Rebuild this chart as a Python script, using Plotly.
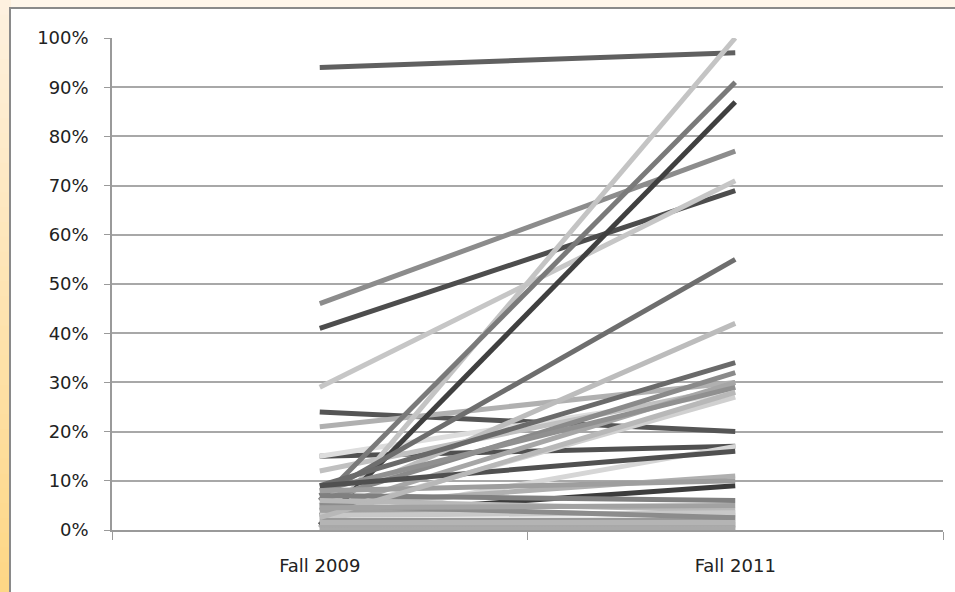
import plotly.graph_objects as go

categories = ["Fall 2009", "Fall 2011"]

fall_2009 = [94, 46, 41, 29, 24, 21, 15, 15, 12, 0.5, 1, 6, 7, 5, 9, 6, 4, 3, 8, 2,
             9, 5, 3, 7, 6, 4, 2, 1, 0.5, 3, 5, 1.5, 8, 0, 2.5, 4.5]
fall_2011 = [97, 77, 69, 71, 20, 30, 17, 28, 29, 100, 87, 91, 55, 42, 34, 32, 30, 27, 29, 17,
             16, 11, 9, 6, 4, 3, 2, 1, 0.5, 3.5, 2.5, 1.5, 10, 0.3, 28, 5]
line_colors = ["#606060", "#8c8c8c", "#4d4d4d", "#c6c6c6", "#555555", "#b0b0b0", "#505050",
               "#dddddd", "#c0c0c0", "#c4c4c4", "#404040", "#7a7a7a", "#6e6e6e", "#bcbcbc",
               "#6a6a6a", "#8a8a8a", "#a6a6a6", "#d0d0d0", "#909090", "#d6d6d6", "#505050",
               "#b0b0b0", "#3c3c3c", "#808080", "#b8b8b8", "#a0a0a0", "#9a9a9a", "#787878",
               "#a8a8a8", "#c8c8c8", "#8c8c8c", "#b4b4b4", "#9e9e9e", "#aaaaaa", "#b8b8b8",
               "#a2a2a2"]
y_ticks = [0, 10, 20, 30, 40, 50, 60, 70, 80, 90, 100]

W, H = 955, 592
ML, MR, MT, MB = 112, 12, 38, 62
PW, PH = W - ML - MR, H - MT - MB


def px(x):
    return (x - ML) / PW


def py(y):
    return (H - MB - y) / PH


fig = go.Figure()
for a, b, c in zip(fall_2009, fall_2011, line_colors):
    fig.add_trace(go.Scatter(
        x=categories, y=[a / 100, b / 100], mode="lines",
        line=dict(color=c, width=5), hoverinfo="skip", showlegend=False))

shapes = []
# left gradient strip
n = 40
top_c = (0xFE, 0xF1, 0xDF)
bot_c = (0xFD, 0xD7, 0x86)
for i in range(n):
    t = i / (n - 1)
    col = "rgb(%d,%d,%d)" % tuple(int(top_c[k] + (bot_c[k] - top_c[k]) * t) for k in range(3))
    y0 = H * i / n
    y1 = H * (i + 1) / n + 1
    shapes.append(dict(type="rect", xref="paper", yref="paper", layer="below",
                       x0=px(0), x1=px(11), y0=py(y0), y1=py(y1),
                       fillcolor=col, line=dict(width=0)))
# white chart box
shapes.append(dict(type="rect", xref="paper", yref="paper", layer="below",
                   x0=px(10), x1=px(970), y0=py(8), y1=py(610),
                   fillcolor="white", line=dict(color="#8a8a8a", width=2)))

font = dict(family="DejaVu Sans", size=18, color="#222222")

fig.update_layout(
    width=W, height=H,
    margin=dict(l=ML, r=MR, t=MT, b=MB),
    paper_bgcolor="#FFF6EA",
    plot_bgcolor="rgba(0,0,0,0)",
    shapes=shapes,
    showlegend=False,
    xaxis=dict(type="category", range=[-0.5, 1.5], tickson="boundaries",
               ticks="outside", ticklen=8, tickcolor="#9a9a9a", tickwidth=1,
               showline=True, linecolor="#9a9a9a", linewidth=1.5,
               showgrid=False, zeroline=False, tickfont=font,
               ticklabelstandoff=19),
    yaxis=dict(range=[0, 1], tickvals=[v / 100 for v in y_ticks],
               ticktext=["%d%%" % v for v in y_ticks],
               ticks="outside", ticklen=6, tickcolor="#9a9a9a",
               showline=True, linecolor="#9a9a9a", linewidth=1.5,
               showgrid=True, gridcolor="#a8a8a8", gridwidth=1.5,
               zeroline=False, tickfont=font, ticklabelstandoff=12),
)

fig.write_html("out.html", config={"displayModeBar": False},
               post_script="document.body.style.margin='0';document.body.style.overflow='hidden';")
